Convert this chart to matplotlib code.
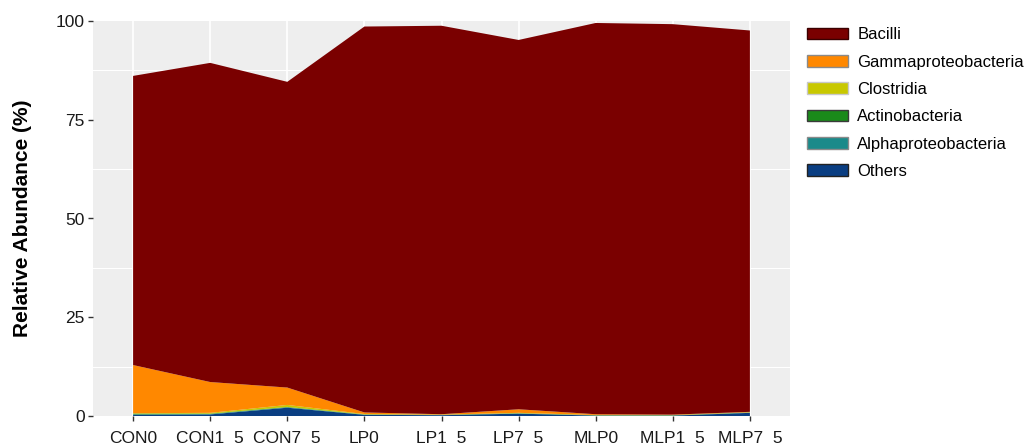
import numpy as np
import matplotlib
matplotlib.use("Agg")
import matplotlib.pyplot as plt
from matplotlib.patches import Patch

plt.rcParams['font.family'] = ['Liberation Sans', 'DejaVu Sans']

samples = ["CON0", "CON1  5", "CON7  5", "LP0", "LP1  5", "LP7  5",
           "MLP0", "MLP1  5", "MLP7  5"]

# relative abundance (%) per class, stacked bottom to top
others = [0.3, 0.4, 2.1, 0.3, 0.2, 0.6, 0.1, 0.1, 0.8]
alphaproteobacteria = [0.1, 0.1, 0.1, 0.05, 0.05, 0.05, 0.05, 0.05, 0.05]
actinobacteria = [0.2, 0.1, 0.1, 0.05, 0.05, 0.05, 0.05, 0.05, 0.05]
clostridia = [0.1, 0.2, 0.5, 0.1, 0.05, 0.1, 0.05, 0.05, 0.05]
gammaproteobacteria = [12.2, 7.8, 4.4, 0.4, 0.1, 0.9, 0.2, 0.1, 0.1]
bacilli = [73.2, 80.8, 77.4, 97.7, 98.35, 93.5, 99.05, 98.85, 96.55]

class_names = ["Bacilli", "Gammaproteobacteria", "Clostridia",
               "Actinobacteria", "Alphaproteobacteria", "Others"]
class_colors = ["#7A0000", "#FF8800", "#C8C800", "#1A8A1A", "#1A8A8A", "#0A3E82"]
legend_edges = ["#3a0000", "#8a8a8a", "#c8c8c8", "#3a3a3a", "#8a8a8a", "#222222"]

stack_values = [others, alphaproteobacteria, actinobacteria, clostridia,
                gammaproteobacteria, bacilli]
stack_colors = class_colors[::-1]

fig = plt.figure(figsize=(10.3, 4.48), dpi=100)
ax = fig.add_axes([93 / 1030, 32 / 448, 697 / 1030, 395 / 448])
ax.set_facecolor("#EEEEEE")

x = np.arange(len(samples))
ax.stackplot(x, *stack_values, colors=stack_colors, linewidth=0, zorder=3)

ax.set_xlim(-0.52, len(samples) - 1 + 0.52)
ax.set_ylim(0, 100)
ax.set_yticks([0, 25, 50, 75, 100])
ax.set_yticks([12.5, 37.5, 62.5, 87.5], minor=True)
ax.set_xticks(x)
ax.set_xticklabels(samples)

# vertical major lines at each sample, horizontal minor lines only
ax.grid(True, axis="x", which="major", color="white", linewidth=1.2, zorder=0)
ax.grid(True, axis="y", which="minor", color="white", linewidth=0.8, zorder=0)
ax.set_axisbelow(True)
for s in ax.spines.values():
    s.set_visible(False)
ax.tick_params(axis="both", which="major", length=3.5, width=1,
               color="#333333", labelsize=12.5, labelcolor="#1a1a1a")
ax.tick_params(axis="y", which="minor", length=0)
ax.tick_params(axis="x", pad=7.5)
ax.tick_params(axis="y", pad=2.5)
ax.set_ylabel("Relative Abundance (%)", fontsize=15, fontweight="bold")
ax.yaxis.set_label_coords(-0.0875, 0.5)

handles = [Patch(facecolor=c, edgecolor=e, linewidth=1.0)
           for c, e in zip(class_colors, legend_edges)]
fig.legend(handles, class_names, loc="upper left",
           bbox_to_anchor=(804 / 1030, 1 - 24 / 448), frameon=False,
           fontsize=12, handlelength=2.45, handleheight=0.7,
           labelspacing=0.74, handletextpad=0.55, borderaxespad=0,
           borderpad=0.2)

fig.savefig("out.png", dpi=100)
